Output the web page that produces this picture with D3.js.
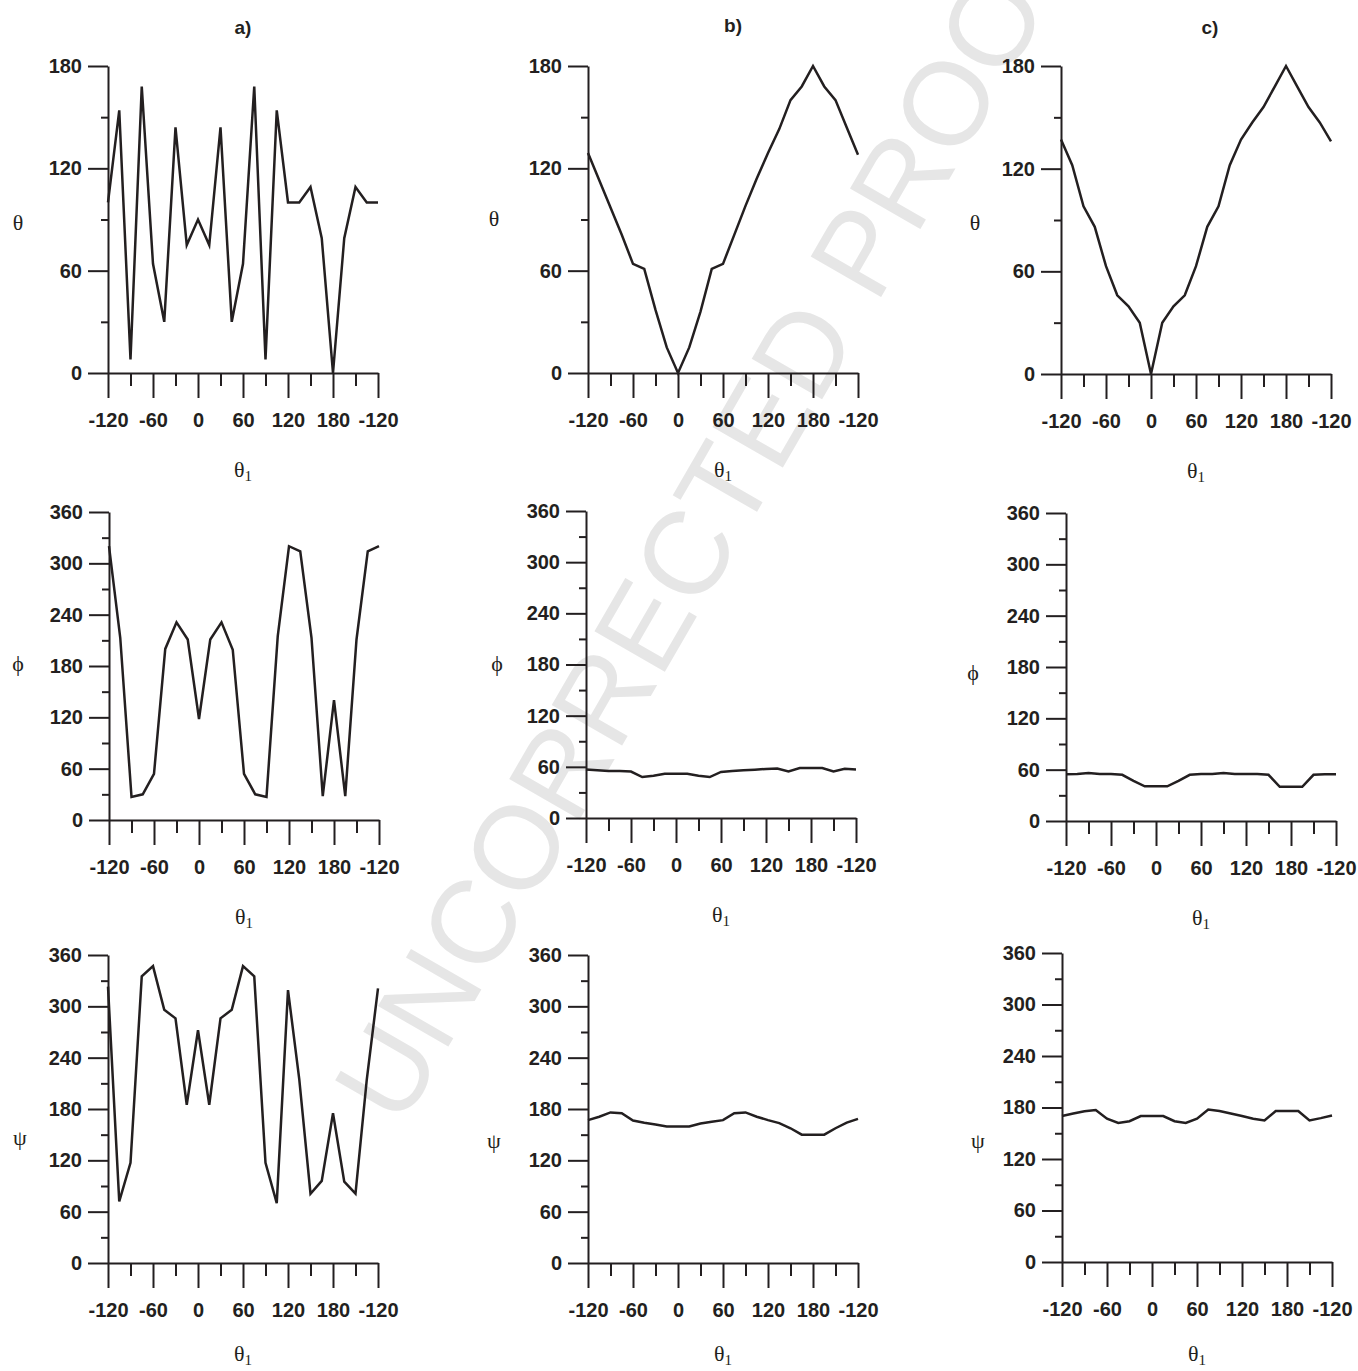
<!DOCTYPE html>
<html>
<head>
<meta charset="utf-8">
<script src="https://cdn.jsdelivr.net/npm/d3@7"></script>
<style>
  body { margin: 0; background: #fff; }
  svg { display: block; }
  .axis path, .axis line { stroke: #231f20; stroke-width: 2; }
  .axis .tick text { font-family: "Liberation Sans", Arial, sans-serif; font-weight: bold; font-size: 20px; fill: #231f20; }
  .title { font-family: "Liberation Sans", Arial, sans-serif; font-weight: bold; font-size: 19px; fill: #231f20; }
  .axlabel { font-family: "Liberation Serif", "Times New Roman", serif; font-size: 22px; fill: #231f20; }
</style>
</head>
<body>
<svg id="chart" width="1358" height="1371"></svg>
<script>
// theta1 sampled every 15 degrees, -120 .. 240 (shown as -120 again at the end)
const theta1 = [-120, -105, -90, -75, -60, -45, -30, -15, 0, 15, 30, 45, 60, 75, 90, 105, 120, 135, 150, 165, 180, 195, 210, 225, 240];
const xMajor = [-120, -60, 0, 60, 120, 180, 240];
const xMinor = [-90, -30, 30, 90, 150, 210];
const xTickLabels = ['-120', '-60', '0', '60', '120', '180', '-120'];

// column a
const aTheta = [100, 154, 8, 168, 64, 30, 144, 75, 90, 75, 144, 30, 64, 168, 8, 154, 100, 100, 109, 79, 0, 79, 109, 100, 100];
const aPhi = [320, 213, 27, 30, 54, 200, 231, 211, 118, 211, 231, 199, 54, 30, 27, 215, 320, 314, 213, 28, 140, 28, 211, 314, 320];
const aPsi = [323, 72, 117, 335, 347, 296, 286, 185, 272, 185, 286, 296, 347, 335, 117, 70, 319, 215, 81, 96, 175, 95, 81, 214, 321];
// column b
const bTheta = [129, 113, 97, 81, 64, 61, 37, 15, 0, 15, 36, 61, 64, 81, 98, 114, 129, 143, 160, 168, 180, 168, 160, 144, 128];
const bPhi = [57, 56, 55, 55, 54.5, 48, 49.5, 52, 52, 52, 49.5, 48, 54, 55, 56, 56.7, 57.5, 58, 54.7, 58.5, 58.5, 58.5, 54.7, 57.7, 57];
const bPsi = [167, 171, 176, 175, 166.5, 164, 162, 159.5, 159.5, 159.5, 163, 165, 167, 175, 176, 171, 167, 163.5, 157.5, 150, 150, 150, 157.5, 164, 168.5];
// column c
const cTheta = [137, 122, 98, 86, 63, 46, 39.5, 30, 0, 30, 39.5, 46, 63, 86, 98, 122, 137, 147, 156, 168, 180, 168, 156, 147, 136];
const cPhi = [54.5, 55, 56, 55, 55, 54, 47, 40.5, 40.5, 40.5, 47, 54, 55, 55, 56, 55, 55, 55, 54, 40, 40, 40, 54, 54.5, 54.5];
const cPsi = [170, 173, 175.7, 177, 167, 162, 164, 170, 170, 170, 164, 162, 167, 177.7, 176, 173, 170, 167, 165, 176, 176, 176, 165, 167.6, 170.7];

const panelTitles = ['a)', 'b)', 'c)'];

const panels = [
  {values: aTheta, yMax: 180, label: 'θ', left: 108, top: 66, bottom: 373, lx: 18, ly: 222},
  {values: bTheta, yMax: 180, label: 'θ', left: 588, top: 66, bottom: 373, lx: 494, ly: 218},
  {values: cTheta, yMax: 180, label: 'θ', left: 1061, top: 66, bottom: 374, lx: 975, ly: 222},
  {values: aPhi, yMax: 360, label: 'ϕ', left: 109, top: 512, bottom: 820, lx: 18, ly: 663},
  {values: bPhi, yMax: 360, label: 'ϕ', left: 586, top: 511, bottom: 818, lx: 497, ly: 663},
  {values: cPhi, yMax: 360, label: 'ϕ', left: 1066, top: 513, bottom: 821, lx: 973, ly: 672},
  {values: aPsi, yMax: 360, label: 'ψ', left: 108, top: 955, bottom: 1263, lx: 20, ly: 1137},
  {values: bPsi, yMax: 360, label: 'ψ', left: 588, top: 955, bottom: 1263, lx: 494, ly: 1140},
  {values: cPsi, yMax: 360, label: 'ψ', left: 1062, top: 953, bottom: 1262, lx: 978, ly: 1140}
];

const svg = d3.select('#chart');

// watermark behind everything
svg.append('text')
  .attr('transform', 'translate(708,515) rotate(-60)')
  .attr('text-anchor', 'middle')
  .attr('dominant-baseline', 'central')
  .style('font-family', '"Liberation Sans", Arial, sans-serif')
  .style('font-size', '118px')
  .style('fill', '#e6e6e6')
  .text('UNCORRECTED PROOF');

[{x: 243, y: 34}, {x: 733, y: 32}, {x: 1210, y: 34}].forEach((pos, i) => {
  svg.append('text').attr('class', 'title')
    .attr('x', pos.x).attr('y', pos.y)
    .attr('text-anchor', 'middle')
    .text(panelTitles[i]);
});

const W = 270;

panels.forEach((p) => {
  const h = p.bottom - p.top;
  const x = d3.scaleLinear().domain([-120, 240]).range([0, W]);
  const y = d3.scaleLinear().domain([0, p.yMax]).range([h, 0]);
  const yMajor = d3.range(0, p.yMax + 1, 60);
  const yMinor = d3.range(30, p.yMax, 60);

  const g = svg.append('g').attr('transform', `translate(${p.left},${p.top})`);

  g.append('g').attr('class', 'axis')
    .call(d3.axisLeft(y).tickValues(yMinor).tickSize(7).tickFormat(''))
    .call(s => s.select('.domain').remove());
  g.append('g').attr('class', 'axis')
    .call(d3.axisLeft(y).tickValues(yMajor).tickSize(20).tickSizeOuter(0).tickPadding(6));

  g.append('g').attr('class', 'axis').attr('transform', `translate(0,${h})`)
    .call(d3.axisBottom(x).tickValues(xMinor).tickSize(13).tickFormat(''))
    .call(s => s.select('.domain').remove());
  g.append('g').attr('class', 'axis').attr('transform', `translate(0,${h})`)
    .call(d3.axisBottom(x).tickValues(xMajor).tickSize(25).tickSizeOuter(0).tickPadding(15)
      .tickFormat((d, i) => xTickLabels[i]));

  const line = d3.line()
    .x((d, i) => x(theta1[i]))
    .y(d => y(d));

  g.append('path')
    .datum(p.values)
    .attr('d', line)
    .attr('fill', 'none')
    .attr('stroke', '#231f20')
    .attr('stroke-width', 2.5);

  // y label
  svg.append('text').attr('class', 'axlabel')
    .attr('x', p.lx).attr('y', p.ly)
    .attr('text-anchor', 'middle')
    .attr('dominant-baseline', 'central')
    .text(p.label);

  // x label theta_1
  const xl = svg.append('text').attr('class', 'axlabel')
    .attr('x', p.left + W / 2).attr('y', Math.min(p.bottom + 104, 1361))
    .attr('text-anchor', 'middle');
  xl.append('tspan').text('θ');
  xl.append('tspan').attr('dy', 4).style('font-size', '15px').text('1');
});
</script>
</body>
</html>
